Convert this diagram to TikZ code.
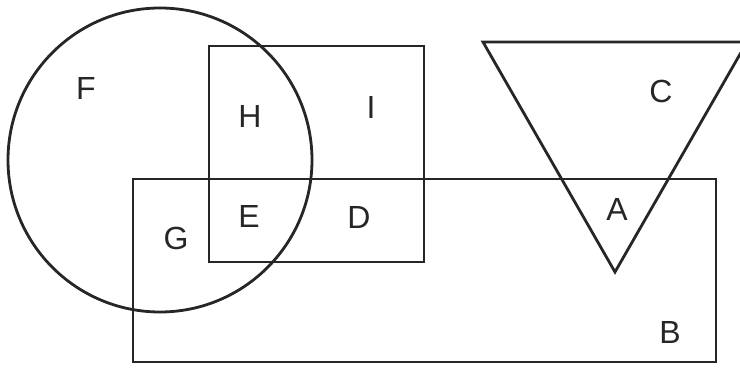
\documentclass[tikz,border=0pt]{standalone}
\usepackage{fontspec}
\setmainfont{Liberation Sans}
\begin{document}
\begin{tikzpicture}[x=1pt,y=-1pt,
  shapeline/.style={line width=2.8pt,draw=black!85},
  lab/.style={font=\fontsize{32}{32}\selectfont,text=black!85,inner sep=0pt}]
\useasboundingbox (0,0) rectangle (740,371);
\clip (0,0) rectangle (740,371);
% circle F
\draw[shapeline] (160,160) circle[radius=152];
% small rectangle
\draw[shapeline] (209,46) rectangle (424,262);
% big rectangle B
\draw[shapeline] (133,179) rectangle (716,362);
% triangle C
\draw[shapeline] (483,42) -- (747,42) -- (615,272) -- cycle;
% labels
\node[lab] (F) at (86,88) {F};
\node[lab] (H) at (250,116) {H};
\node[lab] (I) at (371,107) {I};
\node[lab] (C) at (661,91) {C};
\node[lab] (G) at (176,238) {G};
\node[lab] (E) at (249,216) {E};
\node[lab] (D) at (359,217) {D};
\node[lab] (A) at (617,209) {A};
\node[lab] (B) at (670,332) {B};
\end{tikzpicture}
\end{document}
